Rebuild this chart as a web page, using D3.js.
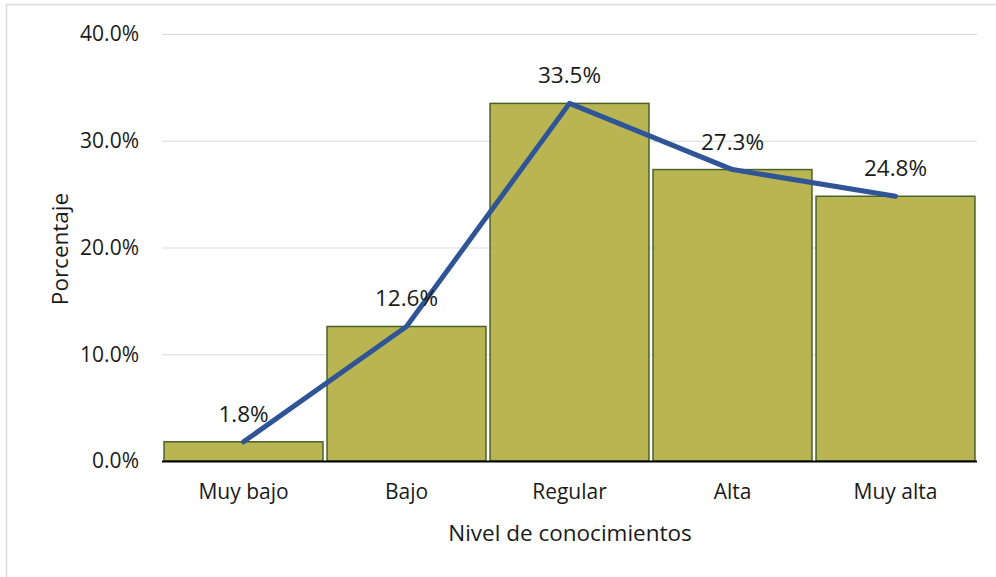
<!DOCTYPE html>
<html><head><meta charset="utf-8">
<script src="https://cdn.jsdelivr.net/npm/d3@7"></script>
<style>
html,body{margin:0;padding:0;background:#fff;}
svg{display:block;font-family:"Open Sans","Noto Sans",sans-serif;}
</style></head>
<body><svg id="c" width="996" height="577"></svg>
<script>
const categories = ["Muy bajo","Bajo","Regular","Alta","Muy alta"];
const values = [1.8,12.6,33.5,27.3,24.8];
const yTicks = [0,10,20,30,40];
const yTickLabels = ["0.0%","10.0%","20.0%","30.0%","40.0%"];
const xTitle = "Nivel de conocimientos";
const yTitle = "Porcentaje";

const svg = d3.select("#c");
const L=162,R=977,T=34,B=461;
// outer frame
svg.append("rect").attr("x",6.5).attr("y",4.5).attr("width",1200).attr("height",1200)
  .attr("fill","none").attr("stroke","#d9d9d9").attr("stroke-width",1.5);

const x = d3.scaleBand().domain(categories).range([L,R]).paddingInner(0.025).paddingOuter(0.0125);
const y = d3.scaleLinear().domain([0,40]).range([B,T]);

// gridlines
svg.append("g").selectAll("line").data(yTicks.filter(d=>d>0)).join("line")
  .attr("x1",L).attr("x2",R).attr("y1",d=>y(d)+0.5).attr("y2",d=>y(d)+0.5)
  .attr("stroke","#d9d9d9").attr("stroke-width",1);

// y tick labels
svg.append("g").selectAll("text").data(yTicks).join("text")
  .attr("x",139).attr("y",d=>y(d)).attr("dy","0.35em").attr("text-anchor","end")
  .attr("font-size",21).attr("fill","#1a1a1a").text((d,i)=>yTickLabels[i]);

// bars
svg.append("g").selectAll("rect").data(values).join("rect")
  .attr("x",(d,i)=>x(categories[i])).attr("width",x.bandwidth())
  .attr("y",d=>y(d)).attr("height",d=>B-y(d))
  .attr("fill","#b9b553").attr("stroke","#4a6128").attr("stroke-width",1.5);

// x axis line
svg.append("line").attr("x1",L).attr("x2",R).attr("y1",B+0.5).attr("y2",B+0.5)
  .attr("stroke","#000").attr("stroke-width",2);

// line
const line = d3.line().x((d,i)=>x(categories[i])+x.bandwidth()/2).y(d=>y(d));
svg.append("path").datum(values).attr("d",line).attr("fill","none")
  .attr("stroke","#2f5597").attr("stroke-width",5).attr("stroke-linecap","round").attr("stroke-linejoin","round");

// data labels
svg.append("g").selectAll("text").data(values).join("text")
  .attr("x",(d,i)=>x(categories[i])+x.bandwidth()/2).attr("y",d=>y(d)-20)
  .attr("text-anchor","middle").attr("font-size",22.5).attr("fill","#1a1a1a")
  .text(d=>d.toFixed(1)+"%");

// category labels
svg.append("g").selectAll("text").data(categories).join("text")
  .attr("x",d=>x(d)+x.bandwidth()/2).attr("y",499).attr("text-anchor","middle")
  .attr("font-size",21).attr("fill","#1a1a1a").text(d=>d);

// titles
svg.append("text").attr("x",570).attr("y",541).attr("text-anchor","middle")
  .attr("font-size",22.5).attr("fill","#1a1a1a").text(xTitle);
svg.append("text").attr("transform","translate(68,249) rotate(-90)").attr("text-anchor","middle")
  .attr("font-size",22.5).attr("fill","#1a1a1a").text(yTitle);
</script></body></html>
